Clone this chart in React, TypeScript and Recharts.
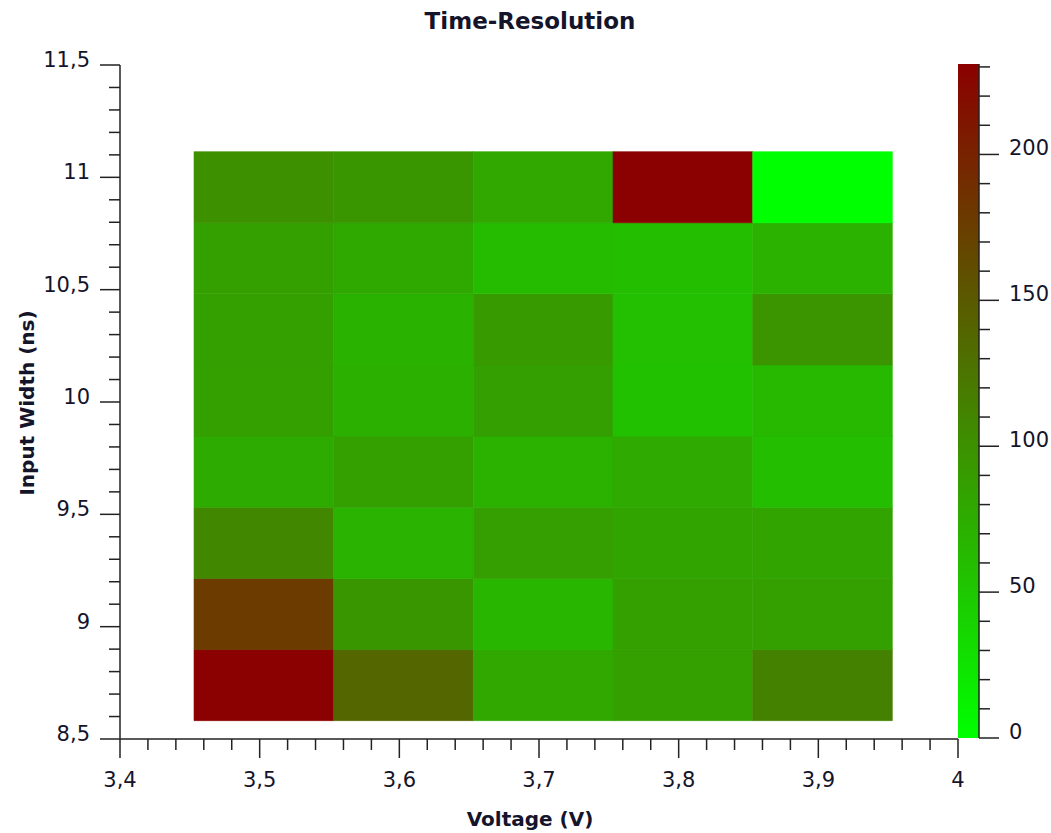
import { ScatterChart, XAxis, YAxis, ReferenceArea, BarChart, Bar } from 'recharts'

// cell centres
const voltages = [3.5, 3.6, 3.7, 3.8, 3.9]
const inputWidths = [8.74, 9.056, 9.373, 9.69, 10.006, 10.323, 10.64, 10.956]

// time resolution per cell, rows bottom -> top (one value per voltage)
const resolution = [
  [231, 139, 79, 86, 114],
  [178, 95, 66, 86, 86],
  [109, 69, 88, 82, 82],
  [76, 86, 71, 77, 59],
  [86, 72, 87, 56, 63],
  [86, 70, 91, 57, 96],
  [86, 78, 61, 59, 71],
  [101, 95, 79, 231, 0]
]

const xMajorTicks = [3.4, 3.5, 3.6, 3.7, 3.8, 3.9, 4]
const yMajorTicks = [8.5, 9, 9.5, 10, 10.5, 11, 11.5]
const colorMajorTicks = [0, 50, 100, 150, 200]
const colorMax = 231

const cellWidth = 0.1
const cellHeight = 0.3167
const cellShift = 0.003

const LOW = [0, 255, 0]
const HIGH = [139, 0, 0]

const tickFont = "'DejaVu Sans', sans-serif"
const titleFont = "'DejaVu Sans', sans-serif"
const axisColor = '#222'
const textColor = '#14142a'

function colorFor(v: number) {
  const t = Math.max(0, Math.min(1, v / colorMax))
  const c = LOW.map((l, i) => Math.round(l + (HIGH[i] - l) * t))
  return `rgb(${c[0]}, ${c[1]}, ${c[2]})`
}

// 4 minor ticks between each pair of major ticks
function withMinor(majors: number[], parts = 5) {
  const out: number[] = []
  for (let i = 0; i < majors.length - 1; i++) {
    const step = (majors[i + 1] - majors[i]) / parts
    for (let k = 0; k < parts; k++) out.push(Math.round((majors[i] + k * step) * 10000) / 10000)
  }
  out.push(majors[majors.length - 1])
  return out
}

const isMajor = (v: number, majors: number[]) => majors.some((m) => Math.abs(m - v) < 1e-6)
const fmt = (v: number) => String(v).replace('.', ',')

const XTick = ({ x, y, payload }: any) => {
  const major = isMajor(payload.value, xMajorTicks)
  return (
    <g>
      <line x1={x} y1={y} x2={x} y2={y + (major ? 19 : 11)} stroke={axisColor} strokeWidth={1.5} />
      {major && (
        <text x={x} y={y + 48} textAnchor="middle" fontSize={21} fontFamily={tickFont} fill={textColor}>
          {fmt(payload.value)}
        </text>
      )}
    </g>
  )
}

const YTick = ({ x, y, payload }: any) => {
  const major = isMajor(payload.value, yMajorTicks)
  return (
    <g>
      <line x1={x} y1={y} x2={x - (major ? 20 : 11)} y2={y} stroke={axisColor} strokeWidth={1.5} />
      {major && (
        <text x={x - 30} y={y + 2} textAnchor="end" fontSize={21} fontFamily={tickFont} fill={textColor}>
          {fmt(payload.value)}
        </text>
      )}
    </g>
  )
}

const ColorTick = ({ x, y, payload }: any) => {
  const major = isMajor(payload.value, colorMajorTicks)
  return (
    <g>
      <line x1={x} y1={y} x2={x + (major ? 20 : 11)} y2={y} stroke={axisColor} strokeWidth={1.5} />
      {major && (
        <text x={x + 30} y={y + 1} textAnchor="start" fontSize={21} fontFamily={tickFont} fill={textColor}>
          {payload.value}
        </text>
      )}
    </g>
  )
}

export default function App() {
  const cells = resolution.flatMap((row, r) =>
    row.map((value, c) => ({
      key: `${r}-${c}`,
      x1: voltages[c] - cellWidth / 2 + cellShift,
      x2: voltages[c] + cellWidth / 2 + cellShift,
      y1: inputWidths[r] - cellHeight / 2,
      y2: inputWidths[r] + cellHeight / 2,
      fill: colorFor(value)
    }))
  )

  return (
    <div style={{ position: 'absolute', left: 0, top: 0, width: 1051, height: 833, background: '#fff' }}>
      <div style={{ position: 'absolute', left: 0, top: 0 }}>
        <ScatterChart width={1051} height={833} margin={{ top: 65, right: 93, bottom: 0, left: 0 }}>
          <XAxis
            type="number"
            dataKey="x"
            domain={[3.4, 4]}
            ticks={withMinor(xMajorTicks)}
            interval={0}
            allowDataOverflow
            height={94}
            tickSize={0}
            tickMargin={0}
            tickLine={false}
            axisLine={{ stroke: axisColor, strokeWidth: 1.5 }}
            tick={<XTick />}
          />
          <YAxis
            type="number"
            dataKey="y"
            domain={[8.5, 11.5]}
            ticks={withMinor(yMajorTicks)}
            interval={0}
            allowDataOverflow
            width={120}
            tickSize={0}
            tickMargin={0}
            tickLine={false}
            axisLine={{ stroke: axisColor, strokeWidth: 1.5 }}
            tick={<YTick />}
          />
          {cells.map((c) => (
            <ReferenceArea
              key={c.key}
              x1={c.x1}
              x2={c.x2}
              y1={c.y1}
              y2={c.y2}
              fill={c.fill}
              fillOpacity={1}
              stroke={c.fill}
              strokeWidth={0.6}
            />
          ))}
        </ScatterChart>
      </div>

      <div style={{ position: 'absolute', left: 950, top: 0 }}>
        <BarChart
          width={101}
          height={833}
          data={[{ name: 'scale', value: colorMax }]}
          barCategoryGap={0}
          margin={{ top: 64, right: 0, bottom: 95, left: 8 }}>
          <defs>
            <linearGradient id="cbGrad" x1="0" y1="0" x2="0" y2="1">
              <stop offset="0%" stopColor={colorFor(colorMax)} />
              <stop offset="100%" stopColor={colorFor(0)} />
            </linearGradient>
          </defs>
          <XAxis dataKey="name" type="category" hide />
          <YAxis
            orientation="right"
            type="number"
            domain={[0, colorMax]}
            ticks={withMinor([0, 50, 100, 150, 200, 250]).filter((t) => t <= colorMax)}
            interval={0}
            allowDataOverflow
            width={72}
            tickSize={0}
            tickMargin={0}
            tickLine={false}
            axisLine={{ stroke: axisColor, strokeWidth: 1.5 }}
            tick={<ColorTick />}
          />
          <Bar dataKey="value" fill="url(#cbGrad)" isAnimationActive={false} />
        </BarChart>
      </div>

      <svg width={1051} height={833} style={{ position: 'absolute', left: 0, top: 0, pointerEvents: 'none' }}>
        <text x={530} y={29} textAnchor="middle" fontSize={23} fontWeight="bold" fontFamily={titleFont} fill={textColor}>
          Time-Resolution
        </text>
        <text x={530} y={826} textAnchor="middle" fontSize={20} fontWeight="bold" fontFamily={titleFont} fill={textColor}>
          Voltage (V)
        </text>
        <text
          x={34}
          y={403}
          textAnchor="middle"
          fontSize={20}
          fontWeight="bold"
          fontFamily={titleFont}
          fill={textColor}
          transform="rotate(-90 34 403)">
          Input Width (ns)
        </text>
      </svg>
    </div>
  )
}
